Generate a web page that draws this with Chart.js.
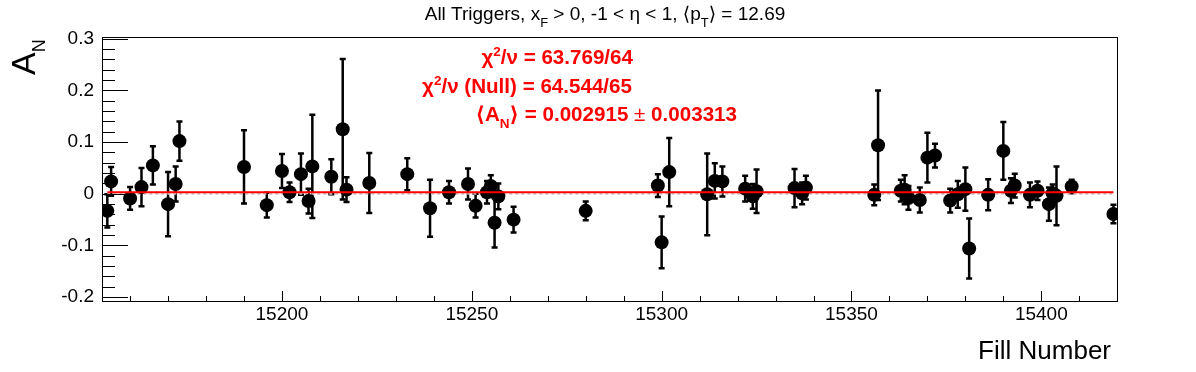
<!DOCTYPE html>
<html>
<head>
<meta charset="utf-8">
<script src="https://cdn.jsdelivr.net/npm/chart.js@4.4.1/dist/chart.umd.min.js"></script>
<style>
  body { margin: 0; background: #fff; }
  #wrap { width: 1196px; height: 372px; }
</style>
</head>
<body>
<div id="wrap"><canvas id="chartJS" width="1196" height="372"></canvas></div>
<script>
// fill numbers, A_N and its error
const fills = [15154, 15155, 15160, 15163, 15166, 15170, 15172, 15173, 15190, 15196,
  15200, 15202, 15205, 15207, 15208, 15213, 15216, 15217, 15223, 15233,
  15239, 15244, 15249, 15251, 15254, 15255, 15256, 15257, 15261, 15280,
  15299, 15300, 15302, 15312, 15314, 15316, 15322, 15324, 15325, 15335,
  15337, 15338, 15356, 15357, 15363, 15364, 15365, 15368, 15370, 15372,
  15376, 15378, 15380, 15381, 15386, 15390, 15392, 15393, 15397, 15399,
  15402, 15403, 15404, 15408, 15419]
const an = [-0.033, 0.024, -0.009, 0.013, 0.055, -0.020, 0.019, 0.102, 0.052, -0.022,
  0.044, 0.003, 0.038, -0.014, 0.053, 0.033, 0.125, 0.008, 0.021, 0.038,
  -0.028, 0.003, 0.019, -0.023, 0.003, 0.015, -0.056, -0.005, -0.050, -0.033,
  0.016, -0.094, 0.042, -0.001, 0.025, 0.024, 0.010, -0.005, 0.005, 0.011,
  0.001, 0.012, -0.002, 0.094, 0.006, 0.008, -0.008, -0.012, 0.070, 0.074,
  -0.013, -0.001, 0.009, -0.106, -0.002, 0.083, 0.006, 0.016, -0.002, 0.006,
  -0.020, 0.001, -0.004, 0.014, -0.039]
const anErr = [0.032, 0.028, 0.022, 0.037, 0.037, 0.062, 0.034, 0.038, 0.071, 0.024,
  0.033, 0.019, 0.040, 0.024, 0.100, 0.034, 0.136, 0.024, 0.058, 0.031,
  0.055, 0.022, 0.030, 0.023, 0.022, 0.021, 0.048, 0.025, 0.025, 0.018,
  0.022, 0.050, 0.066, 0.079, 0.034, 0.029, 0.025, 0.024, 0.042, 0.037,
  0.021, 0.023, 0.020, 0.106, 0.021, 0.028, 0.023, 0.024, 0.048, 0.023,
  0.023, 0.026, 0.042, 0.058, 0.030, 0.056, 0.024, 0.023, 0.024, 0.018,
  0.032, 0.017, 0.057, 0.013, 0.018]

const fitMean = 0.002915
const xTicks = [15200, 15250, 15300, 15350, 15400]
const yTicks = [-0.2, -0.1, 0, 0.1, 0.2, 0.3]

const FONT = "'Liberation Sans', 'DejaVu Sans', Arial, sans-serif"

// draws a row of text pieces [text, font, dy]
function rich(ctx, parts, x, y, align) {
  let w = 0
  parts.forEach(p => { ctx.font = p[1]; w += ctx.measureText(p[0]).width })
  let cx = align === "right" ? x - w : align === "center" ? x - w / 2 : x
  parts.forEach(p => {
    ctx.font = p[1]
    ctx.fillText(p[0], cx, y + (p[2] || 0))
    cx += ctx.measureText(p[0]).width
  })
}

// error bars under the markers
const errorBars = {
  id: "errorBars",
  beforeDatasetsDraw(chart) {
    const ctx = chart.ctx, xs = chart.scales.x, ys = chart.scales.y
    const a = chart.chartArea
    ctx.save()
    ctx.beginPath()
    ctx.rect(a.left, a.top, a.right - a.left, a.bottom - a.top)
    ctx.clip()
    ctx.strokeStyle = "#000"
    ctx.lineWidth = 2.5
    fills.forEach((f, i) => {
      const px = xs.getPixelForValue(f)
      const t = ys.getPixelForValue(an[i] + anErr[i])
      const b = ys.getPixelForValue(an[i] - anErr[i])
      ctx.beginPath()
      ctx.moveTo(px, t); ctx.lineTo(px, b)
      ctx.moveTo(px - 3, t); ctx.lineTo(px + 3, t)
      ctx.moveTo(px - 3, b); ctx.lineTo(px + 3, b)
      ctx.stroke()
    })
    ctx.restore()
  }
}

// frame, inward ticks and all the texts
const decor = {
  id: "decor",
  afterDraw(chart) {
    const ctx = chart.ctx, xs = chart.scales.x, ys = chart.scales.y
    const a = chart.chartArea
    ctx.save()
    ctx.strokeStyle = "#000"
    ctx.lineWidth = 1
    ctx.strokeRect(a.left + 0.5, a.top + 0.5, a.right - a.left - 1, a.bottom - a.top)

    ctx.beginPath()
    for (let v = 15160; v <= 15420; v += 10) {
      const px = Math.round(xs.getPixelForValue(v)) + 0.5
      const len = v % 50 === 0 ? 10 : 5
      ctx.moveTo(px, a.bottom); ctx.lineTo(px, a.bottom - len)
    }
    for (let k = -10; k <= 15; k++) {
      const v = k * 0.02
      const py = Math.round(ys.getPixelForValue(v)) + 0.5
      const len = k % 5 === 0 ? 26 : 13
      ctx.moveTo(a.left, py); ctx.lineTo(a.left + len, py)
    }
    ctx.stroke()

    ctx.fillStyle = "#000"
    ctx.textAlign = "left"
    ctx.textBaseline = "alphabetic"
    const f19 = "19px " + FONT, f13 = "13px " + FONT
    rich(ctx, [["All Triggers, x", f19], ["F", f13, 7], [" > 0, -1 < η < 1, ⟨p", f19], ["T", f13, 7], ["⟩ = 12.69", f19]], 605, 20, "center")

    rich(ctx, [["Fill Number", "26px " + FONT]], 1111, 359, "right")

    ctx.save()
    ctx.translate(35, 75)
    ctx.rotate(-Math.PI / 2)
    rich(ctx, [["A", "34px " + FONT], ["N", "18px " + FONT, 10]], 0, 0, "left")
    ctx.restore()

    ctx.fillStyle = "#ff0000"
    const b20 = "bold 20.6px " + FONT, b13 = "bold 13.5px " + FONT
    rich(ctx, [["χ", b20], ["2", b13, -8], ["/ν = 63.769/64", b20]], 633, 64, "right")
    rich(ctx, [["χ", b20], ["2", b13, -8], ["/ν (Null) = 64.544/65", b20]], 632, 93, "right")
    rich(ctx, [["⟨A", b20], ["N", b13, 7], ["⟩ = 0.002915", b20], [" ± ", "20.6px " + FONT], ["0.003313", b20]], 737, 121, "right")
    ctx.restore()
  }
}

const config = {
  type: "scatter",
  data: {
    datasets: [
      {
        type: "line",
        data: [{ x: fills[0], y: fitMean }, { x: fills[fills.length - 1], y: fitMean }],
        borderColor: "#ff0000",
        borderWidth: 2,
        pointRadius: 0,
        order: 0,
      },
      {
        data: fills.map((f, i) => ({ x: f, y: an[i] })),
        backgroundColor: "#000",
        borderWidth: 0,
        pointRadius: 7,
        order: 1,
      },
      {
        type: "line",
        data: [{ x: fills[0], y: 0 }, { x: fills[fills.length - 1], y: 0 }],
        borderColor: "#c8c8c8",
        borderDash: [3, 3],
        borderWidth: 2,
        pointRadius: 0,
        order: 2,
      },
    ],
  },
  options: {
    responsive: false,
    animation: false,
    layout: { padding: { left: 0, right: 78, top: 37, bottom: 0 } },
    plugins: { legend: { display: false }, tooltip: { enabled: false } },
    scales: {
      x: {
        type: "linear",
        min: 15152.6,
        max: 15420.2,
        afterBuildTicks: s => { s.ticks = xTicks.map(v => ({ value: v })) },
        afterFit: s => { s.height = 71 },
        grid: { display: false, drawTicks: false },
        border: { display: false },
        ticks: {
          color: "#000", font: { family: FONT, size: 19 }, padding: 2, maxRotation: 0, autoSkip: false,
          callback: v => String(v),
        },
      },
      y: {
        type: "linear",
        min: -0.2075,
        max: 0.3035,
        afterBuildTicks: s => { s.ticks = yTicks.map(v => ({ value: v })) },
        afterFit: s => { s.width = 102 },
        grid: { display: false, drawTicks: false },
        border: { display: false },
        ticks: {
          color: "#000", font: { family: FONT, size: 19 }, padding: 8,
          callback: v => (Math.abs(v) < 1e-9 ? "0" : v.toFixed(1)),
        },
      },
    },
  },
  plugins: [errorBars, decor],
}

const myChart = new Chart(document.getElementById("chartJS"), config)
</script>
</body>
</html>
